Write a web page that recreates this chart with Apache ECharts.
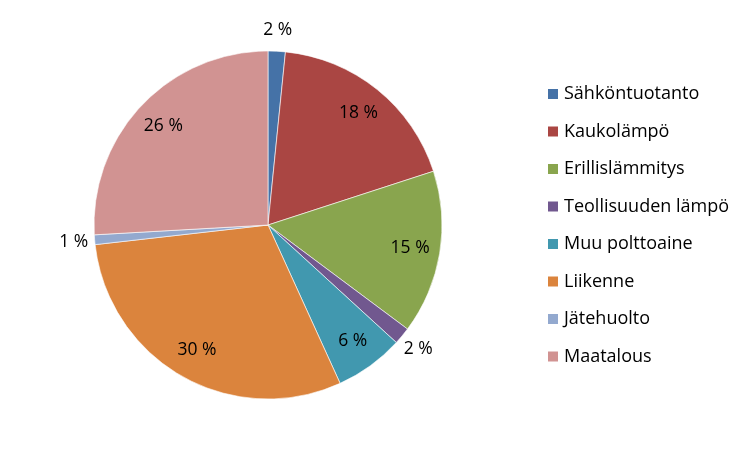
<!DOCTYPE html>
<html><head><meta charset="utf-8">
<script src="https://cdn.jsdelivr.net/npm/echarts@6/dist/echarts.min.js"></script>
<style>html,body{margin:0;padding:0;background:#fff}#c{width:750px;height:450px}</style>
</head><body><div id="c"></div>
<script>
const categories = ['Sähköntuotanto','Kaukolämpö','Erillislämmitys','Teollisuuden lämpö','Muu polttoaine','Liikenne','Jätehuolto','Maatalous'];
const values = [1.6, 18.4, 15.2, 1.6, 6.4, 30.0, 0.9, 25.9];
const colors = ['#4572A7','#AA4643','#89A54E','#71588F','#4198AF','#DB843D','#93A9CF','#D19392'];

const FONT = 'Open Sans';
const fmt = p => Math.round(p.percent) + ' %';
const mainData = categories.map((n, i) => ({
  name: n, value: values[i], itemStyle: { color: colors[i] }
}));
const innerLabelData = categories.map((n, i) => ({
  name: n, value: values[i], label: { show: values[i] >= 5 }
}));
const outerLabelData = categories.map((n, i) => ({
  name: n, value: values[i], label: { show: values[i] < 5 }
}));

const labelSeries = (radius, data) => ({
  type: 'pie',
  center: [268, 225], radius: radius,
  startAngle: 90, clockwise: true,
  silent: true,
  avoidLabelOverlap: false,
  itemStyle: { color: 'rgba(0,0,0,0)', borderWidth: 0 },
  label: { position: 'inside', formatter: fmt, fontFamily: FONT, fontSize: 17.5, color: '#000', padding: [6, 0, 0, 0] },
  labelLine: { show: false },
  emphasis: { disabled: true },
  data: data
});

const chart = echarts.init(document.getElementById('c'), null, { renderer: 'canvas' });
chart.setOption({
  animation: false,
  color: colors,
  legend: {
    data: categories,
    orient: 'vertical',
    left: 541, top: 79,
    itemWidth: 12, itemHeight: 12, itemGap: 17.5,
    icon: 'rect',
    textStyle: { fontFamily: FONT, fontSize: 18, color: '#000', lineHeight: 20 }
  },
  series: [{
    type: 'pie',
    center: [268, 225], radius: 174,
    startAngle: 90, clockwise: true,
    avoidLabelOverlap: false,
    itemStyle: { borderColor: '#fff', borderWidth: 0.6 },
    label: { show: false },
    labelLine: { show: false },
    emphasis: { disabled: true },
    data: mainData
  },
  labelSeries([108, 174], innerLabelData),
  labelSeries([174, 210], outerLabelData)
  ]
});
</script></body></html>
